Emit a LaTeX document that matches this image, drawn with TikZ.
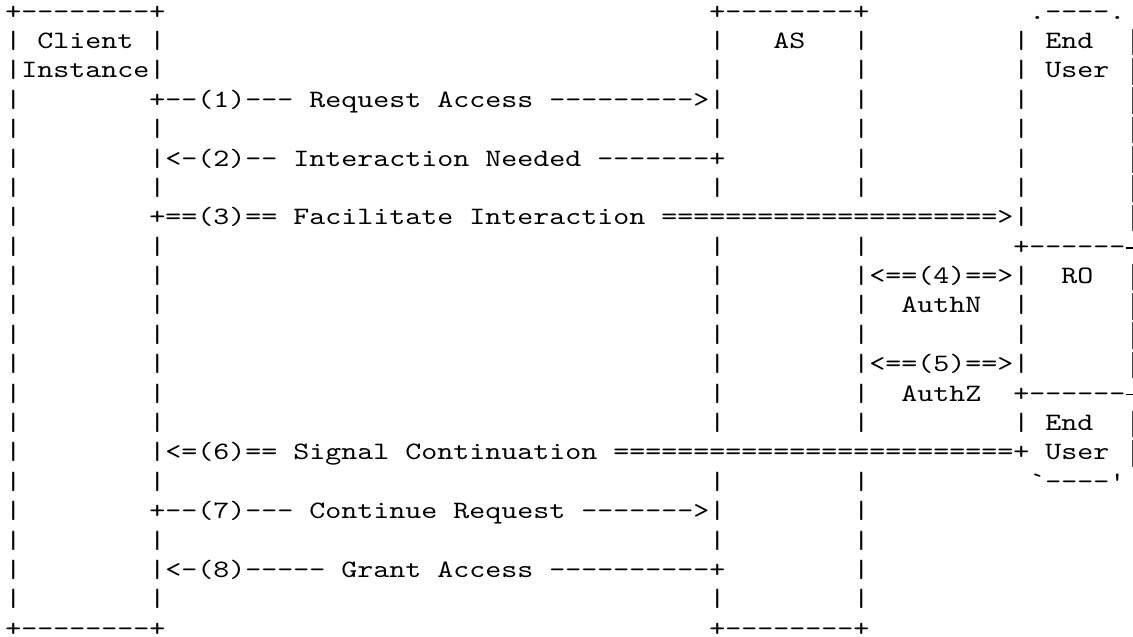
\documentclass[tikz,border=0pt]{standalone}
\usepackage{fontspec}
% typewriter face, widened so one cell is 16bp
\newfontfamily\asciifont{lmmono10-regular.otf}[FakeStretch=1.219]
\newcommand\asciisize{\fontsize{25bp}{29.38bp}\selectfont}
\newlength\aacw
\settowidth\aacw{\asciifont\asciisize x}
\newcommand\aagap[1]{\hskip#1\aacw\relax}
% a vertical stroke one cell wide, tall enough to join the rows above and below
\newcommand\aavbar{\makebox[\aacw]{\textcolor{black!72}{\rule[-6.6bp]{1.7bp}{26.6bp}}}}
\ExplSyntaxOn
\cs_new:Npn \aarep #1#2 { \prg_replicate:nn {#1} {#2} }
\ExplSyntaxOff
\newcommand\aatop{+--------+}
% rows of the flow, one macro per text line (spaces are one cell wide);
% the outer right side of the End User / RO column is drawn separately
\begingroup
\obeyspaces%
\catcode`\|=\active%
\gdef|{\aavbar}%
\gdef\aasetspace{\def {\hskip\aacw\relax}}%
\gdef\aabar{|\aagap{8}|}%
\gdef\rowA{\aatop\aagap{34}\aatop\aagap{10}.----.}%
\gdef\rowB{| Client |\aagap{34}|\aagap{3}AS\aagap{3}|\aagap{9}| End}%
\gdef\rowC{|Instance|\aagap{34}\aabar\aagap{9}| User}%
\gdef\rowD{|\aagap{8}+--(1)--- Request Access \aarep{9}{-}>\aabar\aagap{9}|}%
\gdef\rowE{\aabar\aagap{34}\aabar\aagap{9}|}%
\gdef\rowF{\aabar<-(2)-- Interaction Needed \aarep{7}{-}+\aagap{8}|\aagap{9}|}%
\gdef\rowG{\aabar\aagap{34}\aabar\aagap{9}|}%
\gdef\rowH{|\aagap{8}+==(3)== Facilitate Interaction \aarep{21}{=}>|}%
\gdef\rowI{\aabar\aagap{34}\aabar\aagap{9}+\aarep{6}{-}}%
\gdef\rowJ{\aabar\aagap{34}\aabar<==(4)==>|\aagap{2}RO}%
\gdef\rowK{\aabar\aagap{34}\aabar\aagap{2}AuthN\aagap{2}|}%
\gdef\rowL{\aabar\aagap{34}\aabar\aagap{9}|}%
\gdef\rowM{\aabar\aagap{34}\aabar<==(5)==>|}%
\gdef\rowN{\aabar\aagap{34}\aabar\aagap{2}AuthZ\aagap{2}+\aarep{6}{-}}%
\gdef\rowO{\aabar\aagap{34}\aabar\aagap{9}| End}%
\gdef\rowP{\aabar<=(6)== Signal Continuation \aarep{25}{=}+ User}%
\gdef\rowQ{\aabar\aagap{34}\aabar\aagap{10}`----'}%
\gdef\rowR{|\aagap{8}+--(7)--- Continue Request \aarep{7}{-}>\aabar}%
\gdef\rowS{\aabar\aagap{34}\aabar}%
\gdef\rowT{\aabar<-(8)----- Grant Access \aarep{10}{-}+\aagap{8}|}%
\gdef\rowU{\aabar\aagap{34}\aabar}%
\gdef\rowV{\aatop\aagap{34}\aatop}%
\endgroup
\tikzset{
  asciiline/.style={anchor=base west, inner sep=0pt, outer sep=0pt,
    text=black, font=\asciifont\asciisize\aasetspace},
  edgebar/.style={draw=black!72, line width=1.7bp},
  edgeplus/.style={draw=black, line width=1.1bp}
}
\begin{document}
\begin{tikzpicture}[x=1bp,y=-1bp]
\useasboundingbox (0,0) rectangle (1133,637);
\clip (0,0) rectangle (1133,637);
\foreach \rl [count=\i from 0] in {A,...,V}{
  \node[asciiline] (l\i) at (5.3,{19.2+29.38*\i}) {\csname row\rl\endcsname};
}
% outer right side of the End User / RO column (half of its cell lies past the edge)
\foreach \i in {1,...,7,9,10,11,12,14,15}{
  \coordinate (r\i) at (1133.3,{19.2+29.38*\i+6.6});
  \path[edgebar] (r\i) -- ++(0,-26.6);
}
\foreach \i in {8,13}{
  \coordinate (p\i) at (1133.3,{19.2+29.38*\i-6.25});
  \path[edgeplus] (p\i) ++(-7.6,0) -- ++(15.2,0);
  \path[edgeplus] (p\i) ++(0,-7.6) -- ++(0,15.2);
}
\end{tikzpicture}
\end{document}
